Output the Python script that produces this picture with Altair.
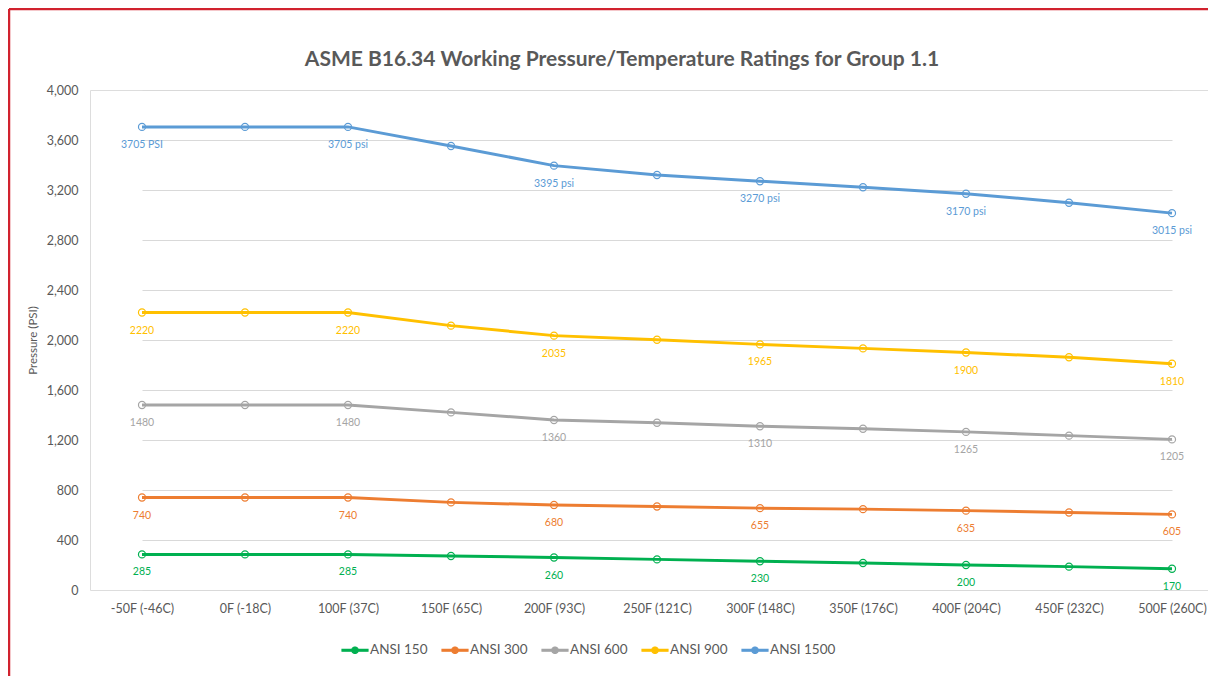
import altair as alt
import pandas as pd
import numpy as np

temps = ["-50F (-46C)", "0F (-18C)", "100F (37C)", "150F (65C)", "200F (93C)", "250F (121C)",
         "300F (148C)", "350F (176C)", "400F (204C)", "450F (232C)", "500F (260C)"]
series = ["ANSI 150", "ANSI 300", "ANSI 600", "ANSI 900", "ANSI 1500"]
colors = ["#00B050", "#ED7D31", "#A5A5A5", "#FFC000", "#5B9BD5"]

ansi150 = [285, 285, 285, 272, 260, 245, 230, 216, 200, 187, 170]
ansi300 = [740, 740, 740, 701, 680, 668, 655, 647, 635, 620, 605]
ansi600 = [1480, 1480, 1480, 1421, 1360, 1338, 1310, 1290, 1265, 1235, 1205]
ansi900 = [2220, 2220, 2220, 2115, 2035, 2002, 1965, 1933, 1900, 1862, 1810]
ansi1500 = [3705, 3705, 3705, 3552, 3395, 3320, 3270, 3222, 3170, 3098, 3015]

labels150 = ["285", "", "285", "", "260", "", "230", "", "200", "", "170"]
labels300 = ["740", "", "740", "", "680", "", "655", "", "635", "", "605"]
labels600 = ["1480", "", "1480", "", "1360", "", "1310", "", "1265", "", "1205"]
labels900 = ["2220", "", "2220", "", "2035", "", "1965", "", "1900", "", "1810"]
labels1500 = ["3705 PSI", "", "3705 psi", "", "3395 psi", "", "3270 psi", "", "3170 psi", "", "3015 psi"]

values = [ansi150, ansi300, ansi600, ansi900, ansi1500]
labels = [labels150, labels300, labels600, labels900, labels1500]

rows = []
for s, vals, labs in zip(series, values, labels):
    for t, v, lab in zip(temps, vals, labs):
        rows.append({"temp": t, "series": s, "psi": v, "label": lab})
df = pd.DataFrame(rows)

FONT = "Lato"
GREY = "#595959"

# legend symbol: thick line with a hollow circle marker (unit coordinates)
def ring(r):
    ang = np.linspace(0, 2 * np.pi, 25)[:-1]
    pts = [f"{r*np.cos(a):.3f},{r*np.sin(a):.3f}" for a in ang]
    return "M" + " L".join(pts) + " Z"

h = 0.07
ro = 0.25
sym = (f"M-1,{-h} L{-ro},{-h} L{-ro},{h} L-1,{h} Z "
       f"M{ro},{-h} L1,{-h} L1,{h} L{ro},{h} Z " + ring(ro))

xenc = alt.X("temp:N", sort=temps,
             scale=alt.Scale(type="point", range=[52, 1082], padding=0),
             axis=alt.Axis(title=None, labelAngle=0, labelFont=FONT, labelFontSize=12.5,
                           labelColor=GREY, ticks=False, domain=False, labelPadding=12, grid=False))
yenc = alt.Y("psi:Q", scale=alt.Scale(domain=[0, 4000]),
             axis=alt.Axis(title="Pressure (PSI)", values=list(range(0, 4001, 400)), format=",.0f",
                           labelFont=FONT, labelFontSize=12.5, labelColor=GREY, ticks=False,
                           domain=False, labelPadding=12, gridColor="#D9D9D9", gridWidth=1,
                           titleFont=FONT, titleFontSize=11.5, titleColor=GREY, titleFontWeight="normal",
                           titleX=-57, titleY=250, titleAngle=-90, titleBaseline="middle",
                           titleAlign="center"))
cscale = alt.Scale(domain=series, range=colors)

base = alt.Chart(df)

lines = base.mark_line(strokeWidth=3).encode(
    x=xenc, y=yenc,
    stroke=alt.Stroke("series:N", sort=series, scale=cscale,
                      legend=alt.Legend(title=None, orient="none", direction="horizontal",
                                        legendX=251, legendY=546,
                                        symbolType=sym, symbolSize=676, symbolStrokeWidth=1.2,
                                        labelFont=FONT, labelFontSize=13.5, labelColor=GREY,
                                        labelOffset=1, columnPadding=11)),
)
points = base.mark_point(filled=False, size=50, strokeWidth=1.2, opacity=1).encode(
    x=xenc, y=yenc,
    color=alt.Color("series:N", sort=series, scale=cscale, legend=None),
)
texts = base.mark_text(dy=18, font=FONT, fontSize=10.5).encode(
    x=xenc, y=yenc, text="label:N",
    color=alt.Color("series:N", sort=series, scale=cscale, legend=None)
)

border_df = pd.DataFrame({"k": [0]})
border_left = alt.Chart(border_df).mark_rule(color="#D1222E", strokeWidth=2.5).encode(
    x=alt.value(-81), y=alt.value(-81), y2=alt.value(700))
border_top = alt.Chart(border_df).mark_rule(color="#D1222E", strokeWidth=2.5).encode(
    x=alt.value(-81), x2=alt.value(1118), y=alt.value(-81))

chart = alt.layer(lines, points, texts, border_left, border_top).properties(
    width=1118, height=500,
    autosize=alt.AutoSizeParams(type="none"),
    padding={"left": 82, "top": 82, "right": 0, "bottom": 86},
    title=alt.TitleParams("ASME B16.34 Working Pressure/Temperature Ratings for Group 1.1",
                          font=FONT, fontSize=21, fontWeight="bold", color=GREY,
                          anchor="middle", baseline="middle", dx=-27, dy=73, offset=0),
).configure_view(stroke=None).configure(background="white")

chart.save("out.html", embed_options={"renderer": "svg", "actions": False})
